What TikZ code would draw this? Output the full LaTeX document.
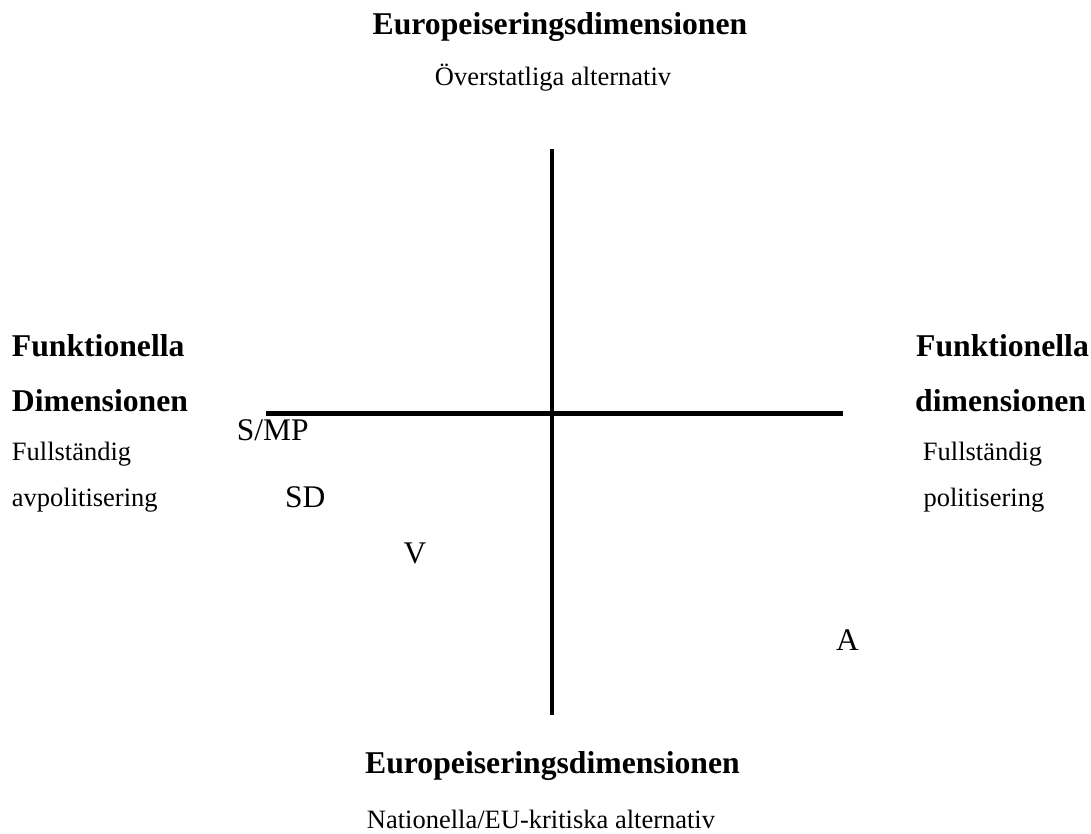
\documentclass[tikz,border=0pt]{standalone}
\usepackage{fontspec}
\setmainfont{Liberation Serif}
\tikzset{
  x=1pt, y=1pt,
  axisline/.style={line width=4.5pt, black},
  headtxt/.style={inner sep=0pt, font=\fontsize{31.7}{36}\selectfont\bfseries},
  subtxt/.style={inner sep=0pt, font=\fontsize{26.5}{30}\selectfont},
  partytxt/.style={inner sep=0pt, font=\fontsize{31.5}{36}\selectfont},
}
\begin{document}
\begin{tikzpicture}
\useasboundingbox (0,0) rectangle (1091,-833);
% axes
\coordinate (vtop) at (552,-149);
\coordinate (vbot) at (552,-715);
\coordinate (hleft) at (265.7,-413.5);
\coordinate (hright) at (842.7,-413.5);
\draw[axisline] (vtop) -- (vbot);
\draw[axisline] (hleft) -- (hright);
% top / bottom
\node[headtxt, anchor=base] (ttitle) at (560,-34) {Europeiseringsdimensionen};
\node[subtxt, anchor=base] (tsub) at (553,-85) {Överstatliga alternativ};
\node[headtxt, anchor=base] (btitle) at (552.5,-773) {Europeiseringsdimensionen};
\node[subtxt, anchor=base] (bsub) at (541,-828) {Nationella/EU-kritiska alternativ};
% left
\node[headtxt, anchor=base west] (l1) at (11.7,-356) {Funktionella};
\node[headtxt, anchor=base west] (l2) at (11.7,-411.7) {Dimensionen};
\node[subtxt, anchor=base west] (l3) at (11.7,-460.7) {Fullständig};
\node[subtxt, anchor=base west] (l4) at (11.7,-506.7) {avpolitisering};
% right
\node[headtxt, anchor=base west] (r1) at (916,-356) {Funktionella};
\node[headtxt, anchor=base west] (r2) at (915,-411.7) {dimensionen};
\node[subtxt, anchor=base west] (r3) at (922.7,-460.7) {Fullständig};
\node[subtxt, anchor=base west] (r4) at (923.3,-506.7) {politisering};
% parties
\node[partytxt, anchor=base west] (smp) at (236.7,-440.7) {S/MP};
\node[partytxt, anchor=base west] (sd) at (285,-507) {SD};
\node[partytxt, anchor=base west] (v) at (403.3,-563) {V};
\node[partytxt, anchor=base west] (a) at (836,-650) {A};
\end{tikzpicture}
\end{document}
